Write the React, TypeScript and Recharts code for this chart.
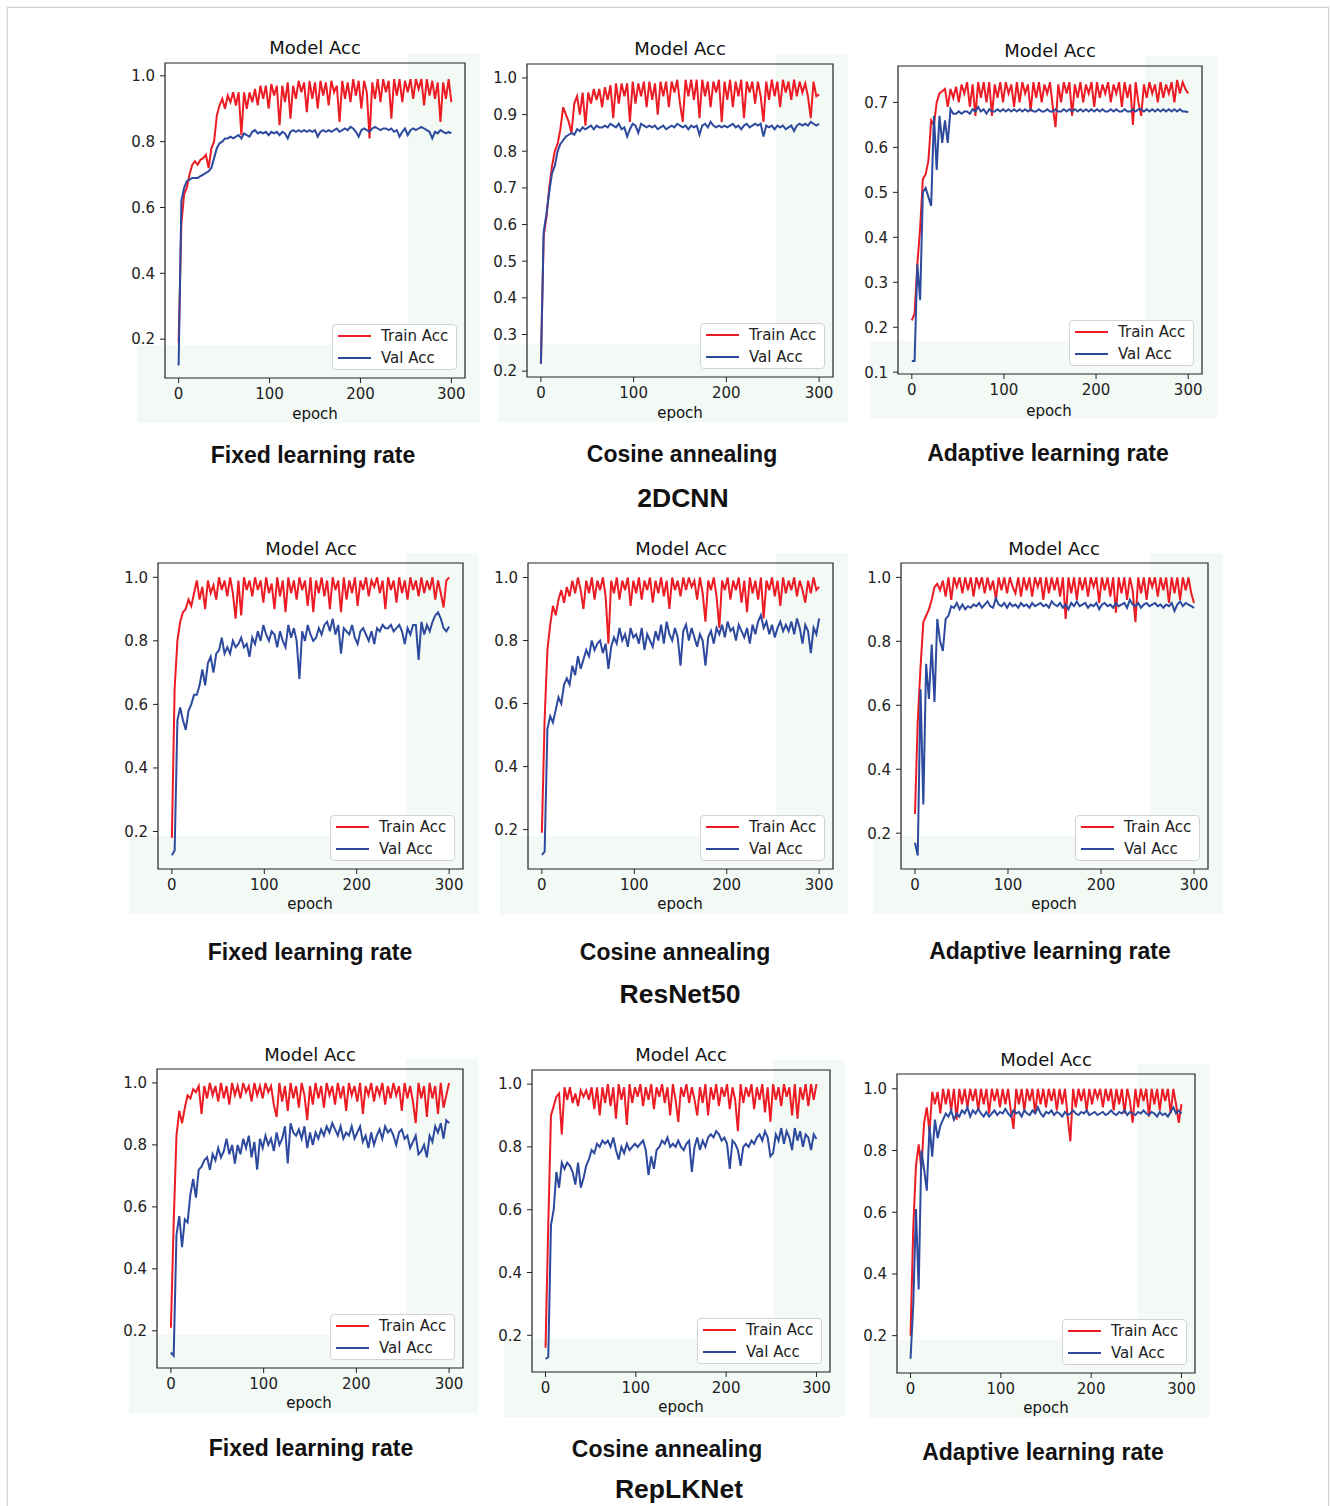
import React from "react";
import { LineChart, Line, XAxis, YAxis, ReferenceArea } from "recharts";

// epochs are sampled every 3 epochs (0..300)
const EPOCHS = Array.from({ length: 101 }, (_, i) => i * 3);
const X_TICKS = [0, 100, 200, 300];
const TICKS_02 = [0.2, 0.4, 0.6, 0.8, 1.0];
const TICKS_CNN_COS = [0.2, 0.3, 0.4, 0.5, 0.6, 0.7, 0.8, 0.9, 1.0];
const TICKS_CNN_ADA = [0.1, 0.2, 0.3, 0.4, 0.5, 0.6, 0.7];

const CNN_FIXED_TRAIN = [
  0.19, 0.55, 0.64, 0.66, 0.70, 0.73, 0.74, 0.73, 0.745, 0.75,
  0.76, 0.72, 0.78, 0.80, 0.88, 0.91, 0.93, 0.90, 0.94, 0.92,
  0.95, 0.91, 0.95, 0.82, 0.95, 0.90, 0.95, 0.92, 0.96, 0.91,
  0.97, 0.93, 0.97, 0.90, 0.975, 0.94, 0.97, 0.85, 0.97, 0.92,
  0.98, 0.87, 0.97, 0.93, 0.985, 0.95, 0.98, 0.89, 0.985, 0.93,
  0.98, 0.90, 0.985, 0.94, 0.98, 0.91, 0.985, 0.95, 0.97, 0.86,
  0.985, 0.93, 0.98, 0.92, 0.99, 0.94, 0.985, 0.90, 0.985, 0.95,
  0.81, 0.98, 0.93, 0.99, 0.92, 0.99, 0.95, 0.985, 0.87, 0.99,
  0.94, 0.99, 0.92, 0.985, 0.95, 0.99, 0.93, 0.99, 0.96, 0.99,
  0.91, 0.99, 0.94, 0.985, 0.93, 0.98, 0.86, 0.98, 0.93, 0.99,
  0.92,
];
const CNN_FIXED_VAL = [
  0.12, 0.62, 0.66, 0.68, 0.685, 0.69, 0.69, 0.69, 0.695, 0.70,
  0.705, 0.71, 0.72, 0.75, 0.78, 0.795, 0.80, 0.81, 0.81, 0.815,
  0.81, 0.815, 0.82, 0.81, 0.825, 0.82, 0.815, 0.83, 0.835, 0.825,
  0.83, 0.825, 0.83, 0.82, 0.83, 0.825, 0.83, 0.82, 0.83, 0.825,
  0.81, 0.83, 0.835, 0.83, 0.835, 0.83, 0.835, 0.83, 0.835, 0.83,
  0.835, 0.815, 0.83, 0.835, 0.83, 0.835, 0.83, 0.835, 0.84, 0.83,
  0.835, 0.84, 0.835, 0.845, 0.84, 0.83, 0.815, 0.835, 0.84, 0.835,
  0.83, 0.84, 0.845, 0.84, 0.835, 0.84, 0.84, 0.835, 0.84, 0.83,
  0.835, 0.815, 0.83, 0.84, 0.82, 0.835, 0.84, 0.835, 0.84, 0.845,
  0.84, 0.835, 0.83, 0.81, 0.83, 0.825, 0.835, 0.83, 0.825, 0.83,
  0.825,
];

const CNN_COS_TRAIN = [
  0.22, 0.57, 0.62, 0.70, 0.76, 0.80, 0.82, 0.86, 0.92, 0.90,
  0.88, 0.85, 0.93, 0.95, 0.90, 0.96, 0.87, 0.96, 0.93, 0.97,
  0.94, 0.97, 0.92, 0.975, 0.94, 0.98, 0.89, 0.985, 0.93, 0.985,
  0.95, 0.985, 0.88, 0.99, 0.93, 0.985, 0.95, 0.99, 0.92, 0.99,
  0.94, 0.985, 0.90, 0.99, 0.95, 0.99, 0.92, 0.99, 0.96, 0.995,
  0.93, 0.88, 0.995, 0.95, 0.995, 0.94, 0.995, 0.89, 0.995, 0.95,
  0.99, 0.92, 0.99, 0.96, 0.995, 0.88, 0.99, 0.94, 0.995, 0.92,
  0.99, 0.95, 0.995, 0.89, 0.99, 0.96, 0.99, 0.93, 0.99, 0.95,
  0.88, 0.99, 0.94, 0.995, 0.95, 0.99, 0.92, 0.995, 0.96, 0.99,
  0.94, 0.995, 0.95, 0.99, 0.96, 0.985, 0.95, 0.89, 0.99, 0.95,
  0.955,
];
const CNN_COS_VAL = [
  0.22, 0.58, 0.63, 0.69, 0.74, 0.76, 0.80, 0.82, 0.83, 0.84,
  0.845, 0.85, 0.845, 0.86, 0.855, 0.865, 0.86, 0.865, 0.87, 0.86,
  0.87, 0.865, 0.865, 0.87, 0.865, 0.875, 0.87, 0.865, 0.875, 0.86,
  0.865, 0.84, 0.86, 0.875, 0.87, 0.85, 0.875, 0.87, 0.865, 0.87,
  0.865, 0.87, 0.86, 0.865, 0.87, 0.86, 0.865, 0.87, 0.865, 0.875,
  0.87, 0.865, 0.87, 0.86, 0.87, 0.865, 0.87, 0.845, 0.87, 0.875,
  0.865, 0.88, 0.87, 0.865, 0.87, 0.865, 0.87, 0.865, 0.87, 0.875,
  0.865, 0.87, 0.86, 0.87, 0.875, 0.865, 0.87, 0.875, 0.87, 0.875,
  0.84, 0.87, 0.865, 0.87, 0.86, 0.87, 0.865, 0.87, 0.86, 0.865,
  0.87, 0.855, 0.87, 0.875, 0.87, 0.875, 0.87, 0.88, 0.875, 0.87,
  0.875,
];

const CNN_ADA_TRAIN = [
  0.215, 0.23, 0.34, 0.42, 0.53, 0.54, 0.57, 0.66, 0.65, 0.70,
  0.72, 0.725, 0.73, 0.69, 0.73, 0.71, 0.735, 0.70, 0.74, 0.72,
  0.745, 0.69, 0.74, 0.67, 0.745, 0.71, 0.745, 0.70, 0.745, 0.67,
  0.74, 0.71, 0.745, 0.70, 0.745, 0.72, 0.74, 0.69, 0.745, 0.70,
  0.745, 0.72, 0.74, 0.68, 0.745, 0.71, 0.745, 0.70, 0.74, 0.72,
  0.745, 0.69, 0.645, 0.74, 0.70, 0.745, 0.72, 0.745, 0.67, 0.74,
  0.71, 0.745, 0.70, 0.74, 0.72, 0.745, 0.69, 0.745, 0.71, 0.74,
  0.72, 0.745, 0.70, 0.74, 0.72, 0.745, 0.69, 0.745, 0.71, 0.74,
  0.65, 0.745, 0.70, 0.67, 0.74, 0.71, 0.745, 0.72, 0.74, 0.70,
  0.745, 0.71, 0.74, 0.72, 0.745, 0.70, 0.75, 0.72, 0.745, 0.73,
  0.72,
];
const CNN_ADA_VAL = [
  0.125, 0.125, 0.34, 0.26, 0.50, 0.51, 0.49, 0.47, 0.67, 0.55,
  0.67, 0.61, 0.66, 0.61, 0.685, 0.675, 0.675, 0.68, 0.675, 0.68,
  0.68, 0.675, 0.685, 0.68, 0.69, 0.68, 0.685, 0.675, 0.685, 0.68,
  0.68, 0.685, 0.68, 0.685, 0.68, 0.685, 0.68, 0.685, 0.68, 0.685,
  0.68, 0.685, 0.68, 0.685, 0.68, 0.68, 0.685, 0.68, 0.68, 0.685,
  0.68, 0.68, 0.685, 0.68, 0.68, 0.685, 0.68, 0.685, 0.68, 0.685,
  0.68, 0.685, 0.68, 0.685, 0.68, 0.685, 0.68, 0.685, 0.68, 0.685,
  0.68, 0.68, 0.685, 0.68, 0.685, 0.68, 0.68, 0.685, 0.68, 0.68,
  0.685, 0.68, 0.685, 0.685, 0.68, 0.685, 0.68, 0.685, 0.68, 0.685,
  0.68, 0.685, 0.68, 0.685, 0.68, 0.685, 0.68, 0.685, 0.68, 0.68,
  0.678,
];

const RES_FIXED_TRAIN = [
  0.18, 0.65, 0.80, 0.86, 0.89, 0.90, 0.93, 0.91, 0.95, 0.99,
  0.93, 0.97, 0.90, 0.99, 0.95, 0.975, 0.93, 1.0, 0.96, 0.99,
  0.94, 1.0, 0.95, 0.87, 0.99, 0.88, 1.0, 0.96, 0.99, 0.94,
  1.0, 0.96, 0.99, 0.92, 1.0, 0.95, 0.98, 0.90, 1.0, 0.94,
  0.99, 0.89, 1.0, 0.95, 0.99, 0.93, 1.0, 0.96, 0.99, 0.91,
  1.0, 0.89, 0.99, 0.95, 1.0, 0.94, 0.99, 0.90, 1.0, 0.96,
  0.99, 0.89, 1.0, 0.93, 0.99, 0.95, 1.0, 0.91, 0.99, 0.96,
  1.0, 0.94, 0.99, 0.97, 1.0, 0.95, 0.99, 0.90, 1.0, 0.96,
  0.99, 0.92, 1.0, 0.95, 0.99, 0.93, 1.0, 0.96, 0.99, 0.94,
  1.0, 0.95, 0.99, 0.96, 1.0, 0.93, 0.99, 0.95, 0.905, 0.99,
  1.0,
];
const RES_FIXED_VAL = [
  0.125, 0.14, 0.55, 0.59, 0.55, 0.52, 0.58, 0.60, 0.63, 0.63,
  0.66, 0.71, 0.66, 0.73, 0.75, 0.70, 0.76, 0.77, 0.81, 0.76,
  0.78, 0.76, 0.80, 0.78, 0.79, 0.81, 0.78, 0.79, 0.75, 0.81,
  0.79, 0.83, 0.80, 0.85, 0.82, 0.80, 0.83, 0.82, 0.78, 0.83,
  0.80, 0.78, 0.85, 0.81, 0.84, 0.80, 0.68, 0.83, 0.80, 0.85,
  0.82, 0.80, 0.81, 0.84, 0.82, 0.85, 0.86, 0.83, 0.87, 0.82,
  0.85, 0.76, 0.84, 0.83, 0.82, 0.85, 0.81, 0.79, 0.83, 0.84,
  0.82, 0.80, 0.83, 0.79, 0.84, 0.83, 0.85, 0.84, 0.84, 0.85,
  0.83, 0.84, 0.85, 0.83, 0.79, 0.84, 0.82, 0.85, 0.85, 0.74,
  0.86, 0.82, 0.85, 0.83, 0.86, 0.88, 0.89, 0.87, 0.84, 0.83,
  0.845,
];

const RES_COS_TRAIN = [
  0.19, 0.55, 0.77, 0.85, 0.91, 0.88, 0.93, 0.96, 0.92, 0.97,
  0.94, 0.99, 0.95, 1.0, 0.96, 0.90, 0.99, 0.95, 1.0, 0.93,
  0.99, 0.96, 1.0, 0.94, 0.79, 0.99, 0.95, 1.0, 0.93, 0.99,
  0.96, 1.0, 0.91, 0.99, 0.95, 1.0, 0.93, 0.99, 0.96, 1.0,
  0.92, 0.99, 0.95, 1.0, 0.94, 0.99, 0.90, 1.0, 0.96, 0.99,
  0.94, 1.0, 0.96, 1.0, 0.97, 0.99, 0.93, 1.0, 0.95, 0.86,
  0.99, 0.96, 1.0, 0.94, 0.84, 0.99, 0.96, 1.0, 0.93, 0.99,
  0.96, 1.0, 0.92, 0.99, 0.89, 1.0, 0.95, 0.99, 0.93, 1.0,
  0.87, 0.99, 0.96, 1.0, 0.94, 0.99, 0.91, 1.0, 0.95, 0.99,
  0.96, 1.0, 0.94, 0.99, 0.96, 0.92, 0.99, 0.95, 1.0, 0.96,
  0.97,
];
const RES_COS_VAL = [
  0.12, 0.13, 0.52, 0.56, 0.54, 0.58, 0.62, 0.60, 0.66, 0.68,
  0.66, 0.72, 0.69, 0.75, 0.71, 0.74, 0.77, 0.75, 0.80, 0.77,
  0.79, 0.80, 0.76, 0.79, 0.71, 0.78, 0.81, 0.79, 0.84, 0.80,
  0.82, 0.78, 0.84, 0.81, 0.82, 0.79, 0.84, 0.77, 0.82, 0.80,
  0.78, 0.83, 0.80, 0.85, 0.79, 0.86, 0.82, 0.80, 0.84, 0.81,
  0.72, 0.83, 0.85, 0.80, 0.84, 0.81, 0.78, 0.82, 0.80, 0.72,
  0.81, 0.83, 0.79, 0.84, 0.82, 0.85, 0.81, 0.86, 0.83, 0.84,
  0.80, 0.85, 0.83, 0.81, 0.84, 0.79, 0.85, 0.82, 0.86, 0.88,
  0.84, 0.86, 0.82, 0.85, 0.81, 0.84, 0.86, 0.83, 0.85, 0.83,
  0.86, 0.82, 0.87, 0.84, 0.79, 0.85, 0.83, 0.76, 0.84, 0.82,
  0.87,
];

const RES_ADA_TRAIN = [
  0.26, 0.55, 0.72, 0.86, 0.88, 0.90, 0.93, 0.97, 0.98, 0.96,
  0.99, 0.94, 1.0, 0.93, 1.0, 0.97, 1.0, 0.95, 1.0, 0.96,
  1.0, 0.94, 1.0, 0.97, 1.0, 0.95, 1.0, 0.96, 0.99, 0.93,
  1.0, 0.96, 1.0, 0.95, 1.0, 0.97, 0.95, 1.0, 0.94, 1.0,
  0.96, 1.0, 0.94, 1.0, 0.97, 1.0, 0.93, 1.0, 0.95, 1.0,
  0.96, 1.0, 0.94, 1.0, 0.87, 1.0, 0.95, 1.0, 0.93, 1.0,
  0.96, 1.0, 0.94, 1.0, 0.97, 1.0, 0.92, 1.0, 0.96, 1.0,
  0.94, 1.0, 0.89, 1.0, 0.95, 1.0, 0.93, 1.0, 0.96, 0.86,
  1.0, 0.95, 1.0, 0.93, 1.0, 0.97, 1.0, 0.94, 1.0, 0.96,
  1.0, 0.92, 1.0, 0.95, 1.0, 0.93, 1.0, 0.96, 1.0, 0.95,
  0.92,
];
const RES_ADA_VAL = [
  0.17, 0.13, 0.65, 0.29, 0.73, 0.62, 0.79, 0.61, 0.87, 0.80,
  0.77, 0.87, 0.88, 0.91, 0.905, 0.92, 0.90, 0.915, 0.90, 0.91,
  0.905, 0.915, 0.91, 0.92, 0.905, 0.915, 0.925, 0.91, 0.905, 0.935,
  0.915, 0.91, 0.92, 0.905, 0.92, 0.91, 0.915, 0.905, 0.92, 0.91,
  0.915, 0.905, 0.92, 0.91, 0.915, 0.92, 0.91, 0.915, 0.905, 0.925,
  0.915, 0.91, 0.92, 0.905, 0.915, 0.90, 0.92, 0.91, 0.925, 0.91,
  0.915, 0.92, 0.905, 0.915, 0.91, 0.92, 0.90, 0.915, 0.92, 0.91,
  0.915, 0.905, 0.92, 0.91, 0.915, 0.92, 0.905, 0.93, 0.915, 0.91,
  0.92, 0.905, 0.915, 0.92, 0.91, 0.915, 0.92, 0.91, 0.915, 0.905,
  0.915, 0.91, 0.92, 0.895, 0.915, 0.925, 0.91, 0.92, 0.915, 0.91,
  0.905,
];

const REP_FIXED_TRAIN = [
  0.21, 0.55, 0.83, 0.91, 0.87, 0.92, 0.96, 0.95, 0.98, 0.97,
  0.99, 0.90, 0.99, 0.95, 1.0, 0.96, 0.99, 0.94, 1.0, 0.95,
  0.99, 0.93, 1.0, 0.96, 0.99, 0.95, 1.0, 0.97, 0.99, 0.94,
  1.0, 0.96, 0.99, 0.95, 1.0, 0.97, 0.99, 0.93, 0.89, 1.0,
  0.94, 0.99, 0.91, 1.0, 0.95, 0.99, 0.92, 1.0, 0.96, 0.88,
  0.99, 0.93, 1.0, 0.95, 0.99, 0.92, 1.0, 0.96, 0.99, 0.93,
  1.0, 0.95, 0.99, 0.91, 1.0, 0.96, 0.99, 0.94, 1.0, 0.90,
  0.99, 0.96, 1.0, 0.94, 0.99, 0.96, 1.0, 0.93, 0.99, 0.95,
  1.0, 0.96, 0.99, 0.91, 1.0, 0.95, 0.99, 0.94, 0.87, 1.0,
  0.95, 0.99, 0.89, 1.0, 0.95, 0.99, 0.90, 1.0, 0.92, 0.96,
  1.0,
];
const REP_FIXED_VAL = [
  0.13, 0.12, 0.51, 0.57, 0.47, 0.56, 0.55, 0.64, 0.69, 0.63,
  0.72, 0.73, 0.75, 0.76, 0.72, 0.77, 0.75, 0.79, 0.76, 0.78,
  0.82, 0.77, 0.80, 0.74, 0.80, 0.77, 0.82, 0.79, 0.83, 0.76,
  0.81, 0.72, 0.82, 0.79, 0.83, 0.80, 0.82, 0.78, 0.84, 0.80,
  0.82, 0.86, 0.74, 0.87, 0.84, 0.83, 0.85, 0.82, 0.86, 0.79,
  0.84, 0.80, 0.84, 0.82, 0.85, 0.83, 0.86, 0.84, 0.87, 0.85,
  0.83, 0.86, 0.82, 0.84, 0.83, 0.86, 0.82, 0.84, 0.86, 0.81,
  0.83, 0.79, 0.84, 0.80, 0.83, 0.85, 0.82, 0.86, 0.84, 0.85,
  0.83, 0.80, 0.84, 0.85, 0.82, 0.83, 0.79, 0.81, 0.83, 0.77,
  0.78, 0.80, 0.76, 0.83, 0.81, 0.86, 0.84, 0.87, 0.82, 0.88,
  0.87,
];

const REP_COS_TRAIN = [
  0.16, 0.55, 0.90, 0.93, 0.96, 0.97, 0.84, 0.99, 0.95, 0.99,
  0.94, 0.97, 0.93, 0.98, 0.96, 0.98, 0.95, 0.99, 0.92, 0.99,
  0.90, 0.99, 0.94, 1.0, 0.93, 0.99, 0.89, 1.0, 0.95, 0.99,
  0.87, 1.0, 0.94, 0.99, 0.96, 1.0, 0.93, 0.99, 0.95, 1.0,
  0.92, 0.99, 0.96, 1.0, 0.94, 0.99, 0.90, 1.0, 0.95, 0.88,
  0.99, 0.96, 1.0, 0.94, 0.99, 0.95, 0.90, 0.99, 0.94, 1.0,
  0.90, 0.99, 0.95, 1.0, 0.93, 0.99, 0.96, 1.0, 0.92, 0.99,
  0.95, 0.85, 1.0, 0.94, 0.99, 0.96, 1.0, 0.92, 0.99, 0.95,
  1.0, 0.91, 0.99, 0.88, 1.0, 0.95, 0.99, 0.93, 1.0, 0.96,
  0.99, 0.90, 1.0, 0.89, 0.99, 0.95, 1.0, 0.93, 1.0, 0.95,
  1.0,
];
const REP_COS_VAL = [
  0.125, 0.13, 0.55, 0.60, 0.72, 0.67, 0.75, 0.73, 0.75, 0.74,
  0.72, 0.68, 0.75, 0.67, 0.70, 0.74, 0.76, 0.79, 0.78, 0.81,
  0.80, 0.82, 0.81, 0.82, 0.80, 0.83, 0.79, 0.76, 0.80, 0.78,
  0.81, 0.79, 0.80, 0.81, 0.80, 0.81, 0.82, 0.79, 0.71, 0.77,
  0.73, 0.79, 0.80, 0.82, 0.81, 0.83, 0.80, 0.81, 0.80, 0.82,
  0.80, 0.79, 0.81, 0.82, 0.72, 0.80, 0.83, 0.79, 0.82, 0.80,
  0.83, 0.84, 0.83, 0.85, 0.84, 0.82, 0.83, 0.81, 0.73, 0.82,
  0.81, 0.79, 0.74, 0.80, 0.81, 0.80, 0.82, 0.81, 0.83, 0.84,
  0.82, 0.85, 0.83, 0.77, 0.78, 0.84, 0.82, 0.86, 0.81, 0.85,
  0.83, 0.79, 0.86, 0.82, 0.85, 0.80, 0.84, 0.83, 0.79, 0.84,
  0.825,
];

const REP_ADA_TRAIN = [
  0.20, 0.55, 0.75, 0.82, 0.74, 0.89, 0.94, 0.86, 0.99, 0.95,
  0.99, 0.92, 1.0, 0.95, 1.0, 0.93, 1.0, 0.90, 1.0, 0.95,
  1.0, 0.94, 1.0, 0.96, 1.0, 0.93, 1.0, 0.95, 1.0, 0.92,
  1.0, 0.96, 1.0, 0.94, 1.0, 0.95, 1.0, 0.93, 0.87, 1.0,
  0.95, 1.0, 0.93, 1.0, 0.96, 1.0, 0.92, 1.0, 0.95, 1.0,
  0.94, 1.0, 0.96, 1.0, 0.93, 1.0, 0.95, 1.0, 0.91, 0.83,
  1.0, 0.94, 1.0, 0.96, 1.0, 0.93, 1.0, 0.95, 1.0, 0.97,
  1.0, 0.94, 1.0, 0.96, 1.0, 0.93, 1.0, 0.95, 1.0, 0.92,
  1.0, 0.96, 0.89, 1.0, 0.94, 1.0, 0.96, 1.0, 0.91, 1.0,
  0.95, 1.0, 0.93, 1.0, 0.96, 1.0, 0.92, 1.0, 0.95, 0.89,
  0.95,
];
const REP_ADA_VAL = [
  0.125, 0.30, 0.61, 0.35, 0.80, 0.74, 0.67, 0.88, 0.78, 0.90,
  0.84, 0.88, 0.90, 0.92, 0.91, 0.93, 0.90, 0.92, 0.91, 0.93,
  0.92, 0.94, 0.91, 0.93, 0.92, 0.935, 0.92, 0.91, 0.925, 0.91,
  0.92, 0.93, 0.915, 0.925, 0.92, 0.935, 0.92, 0.91, 0.93, 0.92,
  0.925, 0.91, 0.93, 0.92, 0.915, 0.93, 0.92, 0.94, 0.92, 0.91,
  0.925, 0.92, 0.93, 0.915, 0.925, 0.92, 0.91, 0.925, 0.915, 0.92,
  0.93, 0.92, 0.915, 0.925, 0.92, 0.93, 0.915, 0.92, 0.925, 0.915,
  0.92, 0.925, 0.915, 0.92, 0.93, 0.92, 0.915, 0.925, 0.92, 0.93,
  0.915, 0.925, 0.92, 0.915, 0.925, 0.92, 0.93, 0.92, 0.915, 0.925,
  0.92, 0.91, 0.925, 0.915, 0.92, 0.91, 0.925, 0.94, 0.92, 0.93,
  0.92,
];

const RED = "#ec1c24";
const BLUE = "#2d4a9e";
const MINT = "#f3faf5";
const MPL_FONT = "'DejaVu Sans', sans-serif";
const CAP_FONT = "'Liberation Sans', Arial, sans-serif";

// box = [left, top, width, height] of the axes frame on the page
const PANELS = [
  { box: [165, 63, 300, 315], y: [0.082, 1.039], ticks: TICKS_02, train: CNN_FIXED_TRAIN, val: CNN_FIXED_VAL, title: [315, 48], xl: [315, 414] },
  { box: [527, 64, 306, 313], y: [0.184, 1.038], ticks: TICKS_CNN_COS, train: CNN_COS_TRAIN, val: CNN_COS_VAL, title: [680, 49], xl: [680, 413] },
  { box: [898, 66, 304, 308], y: [0.096, 0.781], ticks: TICKS_CNN_ADA, train: CNN_ADA_TRAIN, val: CNN_ADA_VAL, title: [1050, 51], xl: [1049, 411] },
  { box: [158, 563, 305, 306], y: [0.082, 1.045], ticks: TICKS_02, train: RES_FIXED_TRAIN, val: RES_FIXED_VAL, title: [311, 549], xl: [310, 904] },
  { box: [528, 563, 305, 306], y: [0.075, 1.046], ticks: TICKS_02, train: RES_COS_TRAIN, val: RES_COS_VAL, title: [681, 549], xl: [680, 904] },
  { box: [901, 563, 307, 306], y: [0.088, 1.045], ticks: TICKS_02, train: RES_ADA_TRAIN, val: RES_ADA_VAL, title: [1054, 549], xl: [1054, 904] },
  { box: [157, 1069, 306, 299], y: [0.08, 1.045], ticks: TICKS_02, train: REP_FIXED_TRAIN, val: REP_FIXED_VAL, title: [310, 1055], xl: [309, 1403] },
  { box: [532, 1070, 298, 302], y: [0.083, 1.045], ticks: TICKS_02, train: REP_COS_TRAIN, val: REP_COS_VAL, title: [681, 1055], xl: [681, 1407] },
  { box: [897, 1074, 298, 299], y: [0.079, 1.048], ticks: TICKS_02, train: REP_ADA_TRAIN, val: REP_ADA_VAL, title: [1046, 1060], xl: [1046, 1408] },
];

const CAPTIONS = [
  { text: "Fixed learning rate", at: [313, 455] },
  { text: "Cosine annealing", at: [682, 454] },
  { text: "Adaptive learning rate", at: [1048, 453] },
  { text: "Fixed learning rate", at: [310, 952] },
  { text: "Cosine annealing", at: [675, 952] },
  { text: "Adaptive learning rate", at: [1050, 951] },
  { text: "Fixed learning rate", at: [311, 1448] },
  { text: "Cosine annealing", at: [667, 1449] },
  { text: "Adaptive learning rate", at: [1043, 1452] },
];
const MODELS = [
  { text: "2DCNN", at: [683, 498] },
  { text: "ResNet50", at: [680, 994] },
  { text: "RepLKNet", at: [679, 1489] },
];

function Text({ at, size, bold, font, children }: any) {
  return (
    <div
      style={{
        position: "absolute",
        left: at[0],
        top: at[1],
        transform: "translate(-50%, -50%)",
        whiteSpace: "nowrap",
        lineHeight: 1,
        fontSize: size,
        fontWeight: bold ? 700 : 400,
        fontFamily: font,
        color: "#111",
      }}
    >
      {children}
    </div>
  );
}

// faint tinted strips that sit behind each subplot image
function Tint({ box }: any) {
  const [l, t, w, h] = box;
  return (
    <>
      <div style={{ position: "absolute", left: l - 28, top: t + h - 33, width: w + 43, height: 78, background: MINT }} />
      <div style={{ position: "absolute", left: l + w - 57, top: t - 10, width: 72, height: h + 55, background: MINT }} />
    </>
  );
}

const YW = 50;
const XH = 32;
const MT = 4;
const MR = 4;

function Panel({ p }: any) {
  const [left, top, bw, bh] = p.box;
  const data = EPOCHS.map((e, i) => ({ epoch: e, train: p.train[i], val: p.val[i] }));
  const tickStyle = { fontSize: 15, fontFamily: MPL_FONT, fill: "#222" };
  return (
    <div style={{ position: "absolute", left: left - YW, top: top - MT }}>
      <LineChart
        width={bw + YW + MR}
        height={bh + XH + MT}
        data={data}
        margin={{ top: MT, right: MR, left: 0, bottom: 0 }}
      >
        <XAxis
          dataKey="epoch"
          type="number"
          domain={[-15, 315]}
          ticks={X_TICKS}
          height={XH}
          axisLine={false}
          tickSize={5}
          tickMargin={5}
          tickLine={{ stroke: "#222" }}
          tick={tickStyle}
          allowDataOverflow
        />
        <YAxis
          type="number"
          domain={p.y}
          ticks={p.ticks}
          width={YW}
          axisLine={false}
          tickSize={5}
          tickMargin={5}
          tickLine={{ stroke: "#222" }}
          tick={tickStyle}
          tickFormatter={(v: number) => v.toFixed(1)}
          allowDataOverflow
        />
        <ReferenceArea
          x1={-15}
          x2={315}
          y1={p.y[0]}
          y2={p.y[1]}
          fill="none"
          stroke="#222"
          strokeWidth={1.2}
          ifOverflow="visible"
        />
        <Line type="linear" dataKey="train" stroke={RED} strokeWidth={2} dot={false} isAnimationActive={false} />
        <Line type="linear" dataKey="val" stroke={BLUE} strokeWidth={2} dot={false} isAnimationActive={false} />
      </LineChart>
      <div
        style={{
          position: "absolute",
          left: YW + bw - 8 - 125,
          top: MT + bh - 8 - 46,
          width: 125,
          height: 46,
          boxSizing: "border-box",
          border: "1px solid #d3d3d3",
          borderRadius: 4,
          background: "rgba(255,255,255,0.9)",
          fontFamily: MPL_FONT,
          fontSize: 15,
          color: "#222",
        }}
      >
        {[
          { label: "Train Acc", color: RED, y: 11 },
          { label: "Val Acc", color: BLUE, y: 33 },
        ].map((r) => (
          <div key={r.label}>
            <div style={{ position: "absolute", left: 5, top: r.y - 1, width: 33, height: 2, background: r.color }} />
            <div style={{ position: "absolute", left: 48, top: r.y - 8, lineHeight: "16px", whiteSpace: "nowrap" }}>{r.label}</div>
          </div>
        ))}
      </div>
    </div>
  );
}

export default function App() {
  return (
    <div style={{ position: "absolute", left: 0, top: 0, width: 1330, height: 1506, overflow: "hidden", background: "#fff" }}>
      <div
        style={{
          position: "absolute",
          left: 7,
          top: 7,
          width: 1320,
          height: 1530,
          border: "1px solid #d2d2d2",
          boxShadow: "0 0 2px rgba(0,0,0,0.12)",
        }}
      />
      {PANELS.map((p, i) => (
        <Tint key={"t" + i} box={p.box} />
      ))}
      {PANELS.map((p, i) => (
        <React.Fragment key={i}>
          <Panel p={p} />
          <Text at={p.title} size={18} font={MPL_FONT}>Model Acc</Text>
          <Text at={p.xl} size={15} font={MPL_FONT}>epoch</Text>
        </React.Fragment>
      ))}
      {CAPTIONS.map((c, i) => (
        <Text key={i} at={c.at} size={23} bold font={CAP_FONT}>{c.text}</Text>
      ))}
      {MODELS.map((m) => (
        <Text key={m.text} at={m.at} size={26.5} bold font={CAP_FONT}>{m.text}</Text>
      ))}
    </div>
  );
}
